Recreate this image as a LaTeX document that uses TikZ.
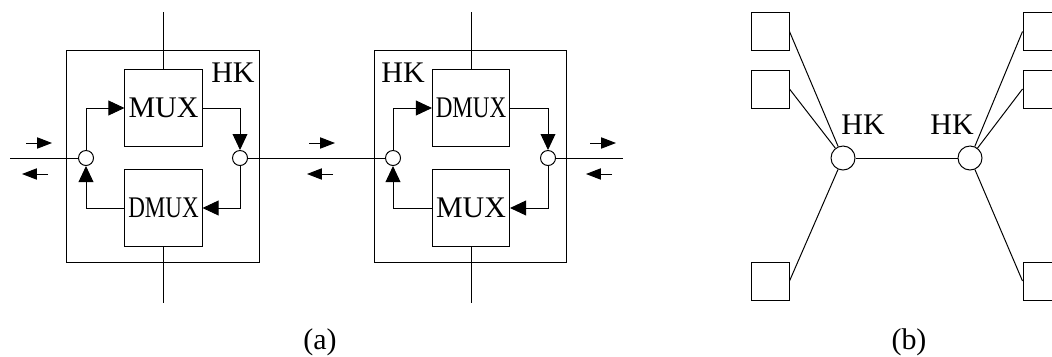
\documentclass[tikz,border=0pt]{standalone}
\usepackage{fontspec}
\setmainfont{Liberation Serif}
\usepackage{graphicx}
\usepackage{tikz}
\usetikzlibrary{arrows.meta,positioning,calc}
\newcommand{\mxfont}{\fontsize{21.3}{25}\selectfont}
\newcommand{\dmx}{\scalebox{0.77}[1]{DMUX}}
\tikzset{
  hk_frame/.style={rectangle,draw,minimum width=4.8cm,minimum height=5.275cm,inner sep=0pt},
  mx_box/.style={rectangle,draw,fill=white,minimum width=1.925cm,minimum height=1.925cm,
    inner sep=0pt,font=\mxfont},
  jn/.style={circle,draw,fill=white,minimum size=0.375cm,inner sep=0pt},
  hub/.style={circle,draw,fill=white,minimum size=0.6cm,inner sep=0pt},
  term/.style={rectangle,draw,fill=white,minimum size=0.95cm,inner sep=0pt},
  lbl/.style={font=\mxfont,inner sep=0pt},
  arr/.style={-{Triangle[length=0.4cm,width=0.37cm]}},
  dir_arr/.style={-{Triangle[length=0.37cm,width=0.28cm]}},
}

\begin{document}
\begin{tikzpicture}[x=0.025cm,y=-0.025cm,line width=0.7pt]
  \useasboundingbox (0,0) rectangle (1052,356);
  % (a) first HK
  \node (fra) [hk_frame] at (163,156.5) {};
  \node (muxa) [mx_box] at (163.5,108) {MUX};
  \node (dmxa) [mx_box] at (163.5,208) {\dmx};
  \node (ja1) [jn] at (86,158) {};
  \node (ja2) [jn] at (240,158) {};
  \node (hka) [lbl] at (233,73) {HK};
  \coordinate (ta) at (163.5,12); \coordinate (ba) at (163.5,303);
  \coordinate (ea) at (10,158);
  \draw (ta) -- (muxa.north); \draw (dmxa.south) -- (ba); \draw (ea) -- (ja1);
  \draw[arr] (ja1) |- (muxa); \draw[arr] (muxa) -| (ja2);
  \draw[arr] (ja2) |- (dmxa); \draw[arr] (dmxa) -| (ja1);
  % (a) second HK
  \node (frb) [hk_frame] at (470.5,156.5) {};
  \node (dmxb) [mx_box] at (471,108) {\dmx};
  \node (muxb) [mx_box] at (471,208) {MUX};
  \node (jb1) [jn] at (393,158) {};
  \node (jb2) [jn] at (548,158) {};
  \node (hkb) [lbl] at (403,73) {HK};
  \coordinate (tb) at (471,12); \coordinate (bb) at (471,303);
  \coordinate (eb) at (623,158);
  \draw (tb) -- (dmxb.north); \draw (muxb.south) -- (bb); \draw (jb2) -- (eb);
  \draw[arr] (jb1) |- (dmxb); \draw[arr] (dmxb) -| (jb2);
  \draw[arr] (jb2) |- (muxb); \draw[arr] (muxb) -| (jb1);
  \draw (ja2) -- (jb1);
  % direction marks
  \draw[dir_arr] ($(ja1)+(-60,-15)$) -- ++(26,0);
  \draw[dir_arr] ($(ja1)+(-38,16)$) -- ++(-26,0);
  \draw[dir_arr] ($(jb1)+(-84,-15)$) -- ++(26,0);
  \draw[dir_arr] ($(jb1)+(-60,16)$) -- ++(-26,0);
  \draw[dir_arr] ($(jb2)+(42,-15)$) -- ++(26,0);
  \draw[dir_arr] ($(jb2)+(64,16)$) -- ++(-26,0);
  % (b)
  \node (hub1) [hub] at (843,158) {};
  \node (hub2) [hub] at (970,158) {};
  \node (sl1) [term] at (770,31.5) {};
  \node (sl2) [term] at (770,89) {};
  \node (sl3) [term] at (770,281) {};
  \node (sr1) [term] at (1042,31.5) {};
  \node (sr2) [term] at (1042,89) {};
  \node (sr3) [term] at (1042,281) {};
  \draw (sl1.east) -- (hub1); \draw (sl2.east) -- (hub1); \draw (sl3.east) -- (hub1);
  \draw (sr1.west) -- (hub2); \draw (sr2.west) -- (hub2); \draw (sr3.west) -- (hub2);
  \draw (hub1) -- (hub2);
  \node (hkl) [lbl] at (863,125) {HK};
  \node (hkr) [lbl] at (952,125) {HK};
  % captions
  \node (capa) [lbl] at (320,342) {(a)};
  \node (capb) [lbl] at (909,342) {(b)};
\end{tikzpicture}
\end{document}
